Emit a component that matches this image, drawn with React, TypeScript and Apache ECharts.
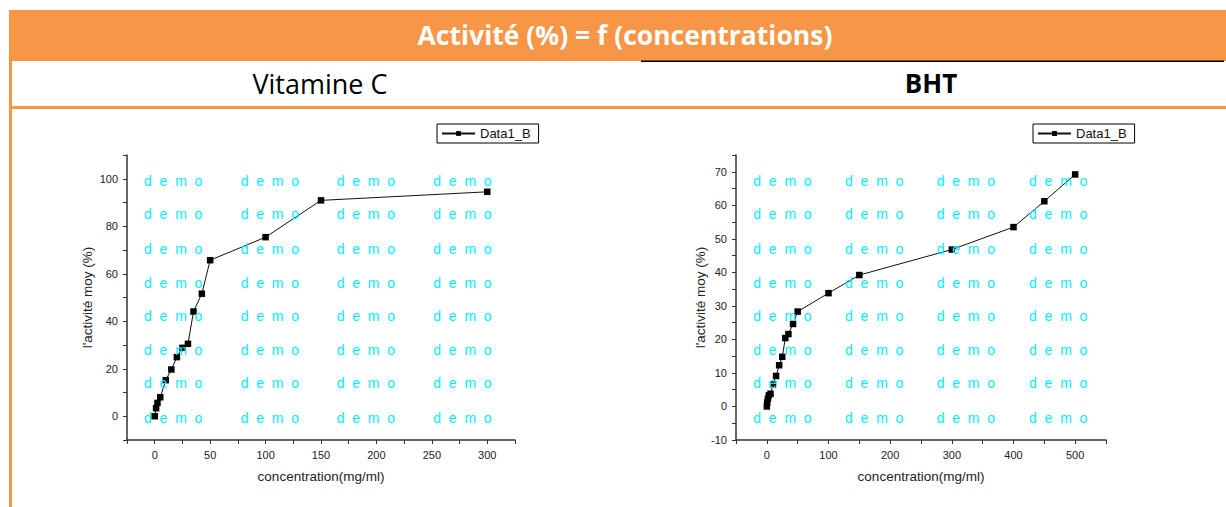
import React, { useEffect, useRef } from 'react';
import * as echarts from 'echarts';

// ---- Data ----
const vitCConc = [0, 1.25, 2.5, 5, 10, 15, 20, 25, 30, 35, 42.5, 50, 100, 150, 300];
const vitCAct = [0, 3.4, 5.6, 8.0, 15.2, 19.7, 24.9, 28.8, 30.5, 44.1, 51.6, 65.7, 75.4, 90.9, 94.5];

const bhtConc = [0, 0.6, 1.7, 3.3, 6, 10, 15, 20, 25, 30, 35, 42.5, 50, 100, 150, 300, 400, 450, 500];
const bhtAct = [0, 1.2, 2.3, 3.3, 3.8, 6.6, 9.1, 12.3, 14.8, 20.4, 21.6, 24.6, 28.3, 33.8, 39.2, 46.8, 53.5, 61.2, 69.2];

const seriesName = 'Data1_B';
const mainTitle = 'Activité (%) = f (concentrations)';
const leftTitle = 'Vitamine C';
const rightTitle = 'BHT';
const xName = 'concentration(mg/ml)';
const yName = "l'activité moy (%)";
const watermark = 'd  e  m  o';

const ORANGE = '#F79646';
const FONT = '"Liberation Sans", Arial, sans-serif';
const HFONT = '"Open Sans", "Noto Sans", sans-serif';

function fmt(step: number, lo: number, hi: number) {
  return (v: number) => {
    const k = Math.round(v / step);
    if (Math.abs(k * step - v) > 1e-6) return '';
    if (v < lo - 1e-6 || v > hi + 1e-6) return '';
    return String(Math.round(v));
  };
}

function axisBase(extra: any) {
  return {
    type: 'value',
    splitLine: { show: false },
    axisLine: { show: true, onZero: false, lineStyle: { color: '#333', width: 1.5 } },
    axisTick: { show: true, inside: false, length: 4, lineStyle: { color: '#333', width: 1 } },
    nameTextStyle: { fontFamily: FONT, fontSize: 13.5, color: '#222' },
    ...extra,
  };
}

function labelStyle(formatter: any) {
  return { color: '#222', fontSize: 11, fontFamily: FONT, margin: 9, formatter, showMinLabel: true, showMaxLabel: true };
}

export default function App() {
  const ref = useRef<HTMLDivElement>(null);
  useEffect(() => {
    document.body.style.margin = '0';
    if (!ref.current) return;
    const chart = echarts.init(ref.current, undefined, { renderer: 'svg' });

    const leftCols = [144, 240.7, 336.7, 433.3];
    const rightCols = [753.3, 845, 936.7, 1029];
    const rows = [180.7, 214, 248.7, 282.7, 316, 349.7, 383.3, 417.7];
    const marks: any[] = [];
    [...leftCols, ...rightCols].forEach((cx) => {
      rows.forEach((ry) => {
        marks.push({
          type: 'text',
          x: cx,
          y: ry,
          z: 100,
          silent: true,
          style: { text: watermark, fill: '#00F0FF', font: `14px ${FONT}`, textAlign: 'left', textVerticalAlign: 'middle' },
        });
      });
    });

    const option: any = {
      animation: false,
      backgroundColor: '#ffffff',
      grid: [
        { left: 127, top: 155, width: 388, height: 285, containLabel: false },
        { left: 736, top: 155, width: 370, height: 285, containLabel: false },
      ],
      xAxis: [
        axisBase({
          gridIndex: 0, min: -25, max: 325, interval: 25,
          name: xName, nameLocation: 'middle', nameGap: 29,
          axisLabel: labelStyle(fmt(50, 0, 300)),
        }),
        axisBase({
          gridIndex: 1, min: -50, max: 550, interval: 50,
          name: xName, nameLocation: 'middle', nameGap: 29,
          axisLabel: labelStyle(fmt(100, 0, 500)),
        }),
      ],
      yAxis: [
        axisBase({
          gridIndex: 0, min: -10, max: 110, interval: 10,
          name: yName, nameLocation: 'middle', nameGap: 33,
          axisLabel: labelStyle(fmt(20, 0, 100)),
        }),
        axisBase({
          gridIndex: 1, min: -10, max: 75, interval: 5,
          name: yName, nameLocation: 'middle', nameGap: 27,
          axisLabel: labelStyle(fmt(10, -10, 70)),
        }),
      ],
      legend: [
        {
          left: 437, top: 124, data: [seriesName],
          borderColor: '#000', borderWidth: 1, borderRadius: 0,
          padding: [3, 8, 3, 4], itemWidth: 33, itemHeight: 6, itemGap: 5,
          textStyle: { fontFamily: FONT, fontSize: 13, color: '#111' },
          selectedMode: false,
        },
        {
          left: 1033, top: 124, data: [seriesName],
          borderColor: '#000', borderWidth: 1, borderRadius: 0,
          padding: [3, 8, 3, 4], itemWidth: 33, itemHeight: 6, itemGap: 5,
          textStyle: { fontFamily: FONT, fontSize: 13, color: '#111' },
          selectedMode: false,
        },
      ],
      series: [
        {
          name: seriesName, type: 'line', xAxisIndex: 0, yAxisIndex: 0,
          data: vitCConc.map((x, i) => [x, vitCAct[i]]),
          symbol: 'rect', symbolSize: 6.5, showAllSymbol: true,
          lineStyle: { color: '#111', width: 1 },
          itemStyle: { color: '#000' },
        },
        {
          name: seriesName, type: 'line', xAxisIndex: 1, yAxisIndex: 1,
          data: bhtConc.map((x, i) => [x, bhtAct[i]]),
          symbol: 'rect', symbolSize: 6.5, showAllSymbol: true,
          lineStyle: { color: '#111', width: 1 },
          itemStyle: { color: '#000' },
        },
      ],
      graphic: [
        { type: 'rect', shape: { x: 9, y: 10, width: 1217, height: 51 }, style: { fill: ORANGE }, z: 1 },
        {
          type: 'text', x: 625, y: 35, z: 2,
          style: { text: mainTitle, fill: '#fff', font: `bold 26.5px ${HFONT}`, textAlign: 'center', textVerticalAlign: 'middle' },
        },
        { type: 'rect', shape: { x: 9, y: 61, width: 3, height: 446 }, style: { fill: ORANGE }, z: 1 },
        { type: 'rect', shape: { x: 9, y: 106, width: 1217, height: 3 }, style: { fill: ORANGE }, z: 1 },
        { type: 'rect', shape: { x: 641, y: 60.5, width: 583, height: 1.5 }, style: { fill: '#000' }, z: 2 },
        {
          type: 'text', x: 320, y: 83, z: 2,
          style: { text: leftTitle, fill: '#000', font: `27px ${HFONT}`, textAlign: 'center', textVerticalAlign: 'middle' },
        },
        {
          type: 'text', x: 931, y: 83, z: 2,
          style: { text: rightTitle, fill: '#000', font: `bold 26px ${HFONT}`, textAlign: 'center', textVerticalAlign: 'middle' },
        },
        ...marks,
      ],
    };
    chart.setOption(option);
    return () => chart.dispose();
  }, []);
  return <div ref={ref} style={{ width: 1226, height: 507 }} />;
}
